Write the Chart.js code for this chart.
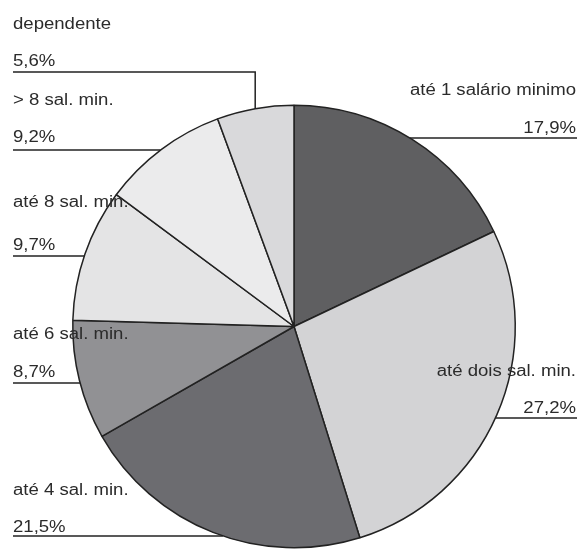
<!DOCTYPE html>
<html>
<head>
<meta charset="utf-8">
<script src="https://cdn.jsdelivr.net/npm/chart.js@4"></script>
<style>
  body { margin: 0; background: #fff; }
  #wrap { width: 582px; height: 549px; position: relative; }
</style>
</head>
<body>
<div id="wrap"><canvas id="pieChart"></canvas></div>
<script>
// income groups, clockwise from the top
const categories = ['até 1 salário minimo', 'até dois sal. min.', 'até 4 sal. min.', 'até 6 sal. min.', 'até 8 sal. min.', '> 8 sal. min.', 'dependente'];
const percentages = [17.9, 27.2, 21.5, 8.7, 9.7, 9.2, 5.6];
const sliceColors = ['#5f5f61', '#d3d3d5', '#6c6c70', '#919194', '#e4e4e5', '#ebebec', '#d9d9db'];

// where each label sits (text baselines and leader line height)
const labelLayout = [
    { side: 'right', nameY: 95, pctY: 133, lineY: 138 },
    { side: 'right', nameY: 376, pctY: 413, lineY: 418 },
    { side: 'left', nameY: 495, pctY: 532, lineY: 536 },
    { side: 'left', nameY: 339, pctY: 377, lineY: 383 },
    { side: 'left', nameY: 207, pctY: 250, lineY: 256 },
    { side: 'left', nameY: 105, pctY: 142, lineY: 150 },
    { side: 'left', nameY: 29, pctY: 66, lineY: 72, drop: true }
];

function fmt(v) {
    return v.toFixed(1).replace('.', ',') + '%';
}

const leaderLabels = {
    id: 'leaderLabels',
    afterDraw(chart) {
        const c = chart.ctx;
        const arcs = chart.getDatasetMeta(0).data;
        const cx = arcs[0].x, cy = arcs[0].y, r = arcs[0].outerRadius;
        const leftX = 13, rightX = 576, stretch = 1.16;

        c.save();
        c.font = '16px "Liberation Sans", Arial, sans-serif';
        c.fillStyle = '#2b2b2b';
        c.strokeStyle = '#222';
        c.lineWidth = 1.5;

        labelLayout.forEach((lay, i) => {
            const name = categories[i];
            const pct = fmt(percentages[i]);
            const right = lay.side === 'right';

            [[name, lay.nameY], [pct, lay.pctY]].forEach(([txt, y]) => {
                const w = c.measureText(txt).width * stretch;
                const x = right ? rightX - w : leftX;
                c.save();
                c.translate(x, y);
                c.scale(stretch, 1);
                c.fillText(txt, 0, 0);
                c.restore();
            });

            c.beginPath();
            if (lay.drop) {
                const a = arcs[i];
                const mid = (a.startAngle + a.endAngle) / 2;
                const px = cx + r * Math.cos(mid);
                const py = cy - Math.sqrt(r * r - (px - cx) * (px - cx));
                c.moveTo(leftX, lay.lineY);
                c.lineTo(px, lay.lineY);
                c.lineTo(px, py);
            } else {
                const dy = lay.lineY - cy;
                const dx = Math.sqrt(Math.max(r * r - dy * dy, 0));
                if (right) {
                    c.moveTo(cx + dx, lay.lineY);
                    c.lineTo(rightX + 1, lay.lineY);
                } else {
                    c.moveTo(leftX, lay.lineY);
                    c.lineTo(cx - dx, lay.lineY);
                }
            }
            c.stroke();
        });
        c.restore();
    }
};

const ctx = document.getElementById('pieChart').getContext('2d');
const pieChart = new Chart(ctx, {
    type: 'pie',
    data: {
        labels: categories,
        datasets: [{
            data: percentages,
            backgroundColor: sliceColors,
            borderColor: '#222',
            borderWidth: 1.5
        }]
    },
    options: {
        responsive: true,
        maintainAspectRatio: false,
        animation: false,
        layout: { padding: { top: 104, bottom: 0, left: 72, right: 66 } },
        plugins: {
            legend: { display: false },
            tooltip: { enabled: false }
        }
    },
    plugins: [leaderLabels]
});
</script>
</body>
</html>
